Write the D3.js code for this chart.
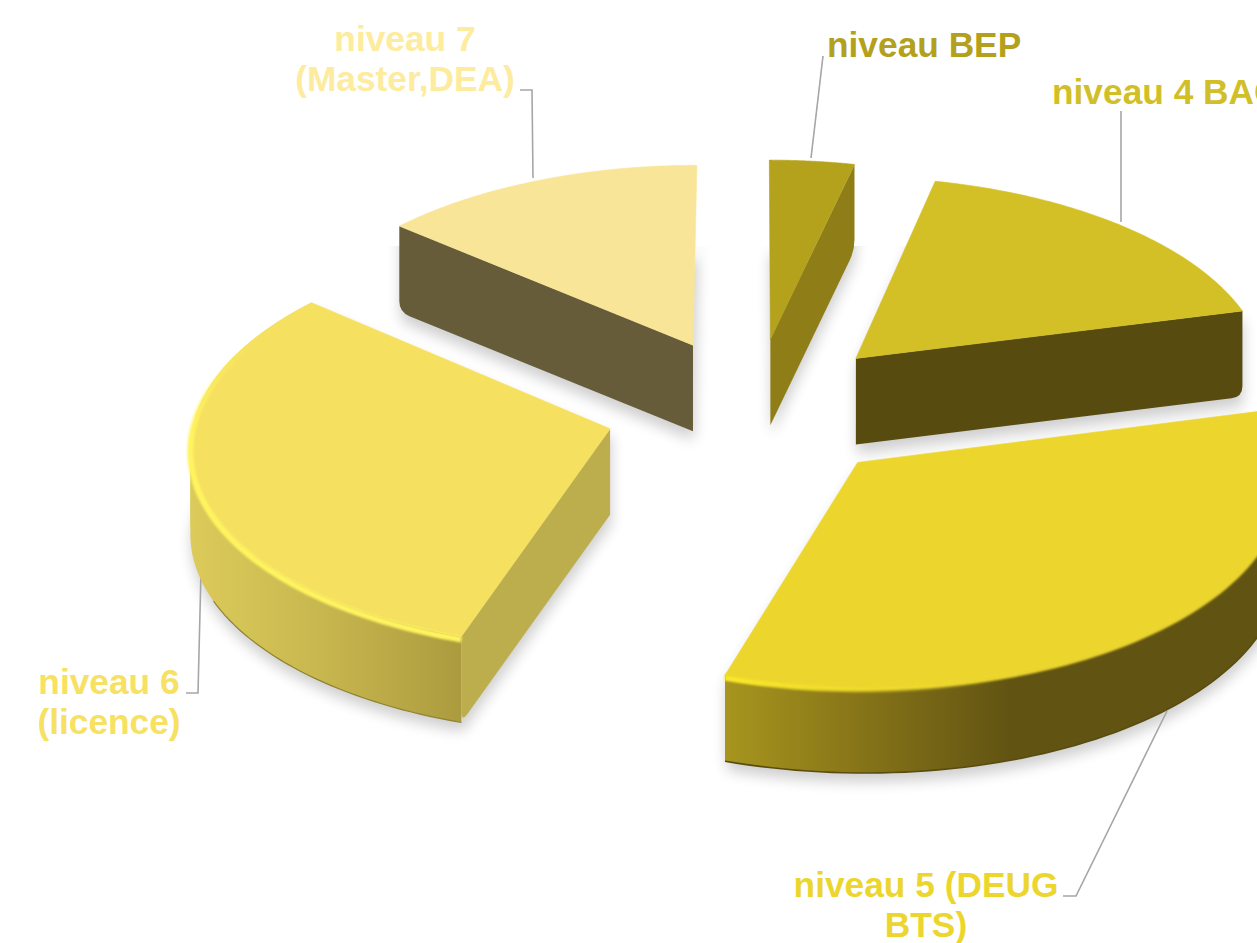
<!DOCTYPE html>
<html>
<head>
<meta charset="utf-8">
<script src="https://cdn.jsdelivr.net/npm/d3@7"></script>
<style>
html,body{margin:0;padding:0;background:#fff;overflow:hidden;}
text{font-family:"Liberation Sans",Arial,sans-serif;font-weight:bold;font-size:35.3px;}
</style>
</head>
<body>
<script>
// data (percent of the pie, clockwise from the top)
var categories = ["niveau BEP", "niveau 4 BAC", "niveau 5 (DEUG BTS)", "niveau 6 (licence)", "niveau 7 (Master,DEA)"];
var values = [3.6, 17.4, 34.0, 31.2, 13.8];

var width = 1257, height = 943;

// fake 3D camera
var cx = 754, cy = 409, rx = 415, ry = 201, persp = 0.07, explode = 0.358, depth = 86;

var topColors = ["#b4a11c", "#d3c027", "#ecd62e", "#f6e060", "#f8e598"];
var wallColors = ["#8f7e18", "#584b10", "#bdae4d", "#bdae4d", "#665c3a"];
var labelColors = ["#b3a01c", "#d2bf28", "#ecd62e", "#f7e162", "#fdeb9e"];

var svg = d3.select("body").append("svg").attr("width", width).attr("height", height);
var defs = svg.append("defs");

defs.append("filter").attr("id", "shadowBlur").attr("x", "-20%").attr("y", "-20%").attr("width", "140%").attr("height", "140%")
    .append("feGaussianBlur").attr("stdDeviation", 7);
defs.append("filter").attr("id", "bevelBlur").attr("filterUnits", "userSpaceOnUse")
    .attr("x", 0).attr("y", 0).attr("width", width + 300).attr("height", height)
    .append("feGaussianBlur").attr("stdDeviation", 1.3);
defs.append("clipPath").attr("id", "shadowClip").append("rect")
    .attr("x", 0).attr("y", 246).attr("width", width).attr("height", height);

function wallGradient(id, x1, x2, stops) {
    var g = defs.append("linearGradient").attr("id", id).attr("gradientUnits", "userSpaceOnUse")
        .attr("x1", x1).attr("x2", x2).attr("y1", 0).attr("y2", 0);
    stops.forEach(function(s) { g.append("stop").attr("offset", s[0]).attr("stop-color", s[1]); });
}
wallGradient("wall5", 721, 1010, [[0, "#a8961f"], [0.5, "#857318"], [1, "#615412"]]);
wallGradient("wall6", 190, 463, [[0, "#dccb5a"], [0.5, "#c7b64e"], [1, "#ab9b3e"]]);

// lip highlights fade out along the arc
var lip5 = defs.append("linearGradient").attr("id", "lip5").attr("gradientUnits", "userSpaceOnUse")
    .attr("x1", 721).attr("x2", 1000).attr("y1", 0).attr("y2", 0);
lip5.append("stop").attr("offset", 0).attr("stop-color", "#fbe92a");
lip5.append("stop").attr("offset", 1).attr("stop-color", "#fbe92a").attr("stop-opacity", 0);
var lip6 = defs.append("linearGradient").attr("id", "lip6").attr("gradientUnits", "userSpaceOnUse")
    .attr("x1", 0).attr("x2", 0).attr("y1", 340).attr("y2", 440);
lip6.append("stop").attr("offset", 0).attr("stop-color", "#fff45f").attr("stop-opacity", 0);
lip6.append("stop").attr("offset", 1).attr("stop-color", "#fff45f");

var arcs = d3.pie().sort(null).value(function(d) { return d; })(values);

function project(slice, theta, r, z) {
    var mid = (slice.startAngle + slice.endAngle) / 2;
    var u = r * Math.sin(theta) + explode * Math.sin(mid);
    var v = -r * Math.cos(theta) - explode * Math.cos(mid);
    var s = 1 / (1 - persp * v);
    return [cx + rx * u * s, cy + ry * v * s + z];
}

var line = d3.line();

function arcPoints(slice, a0, a1, z) {
    return d3.range(0, 81).map(function(i) {
        return project(slice, a0 + (a1 - a0) * i / 80, 1, z);
    });
}
function topFace(slice) {
    return line([project(slice, 0, 0, 0)].concat(arcPoints(slice, slice.startAngle, slice.endAngle, 0))) + "Z";
}
function bottomFace(slice) {
    return line([project(slice, 0, 0, depth)].concat(arcPoints(slice, slice.startAngle, slice.endAngle, depth))) + "Z";
}
// flat wall of a cut, its outer lower corner rounded off
function cutWall(slice, theta) {
    var a = project(slice, 0, 0, 0), b = project(slice, theta, 1, 0),
        c = project(slice, theta, 1, depth), e = project(slice, 0, 0, depth);
    var dx = e[0] - c[0], dy = e[1] - c[1], len = Math.sqrt(dx * dx + dy * dy), k = Math.min(11 / len, 0.3);
    var p = d3.path();
    p.moveTo(a[0], a[1]);
    p.lineTo(b[0], b[1]);
    p.lineTo(c[0], c[1] - 11);
    p.quadraticCurveTo(c[0], c[1], c[0] + dx * k, c[1] + dy * k);
    p.lineTo(e[0], e[1]);
    p.closePath();
    return p.toString();
}
// curved wall as two separate pieces, split at the leftmost point
// (one path would cancel itself where the pieces overlap)
function leftmost(slice) {
    return d3.minIndex(arcPoints(slice, slice.startAngle, slice.endAngle, 0), function(p) { return p[0]; });
}
function outerWalls(slice) {
    var a = arcPoints(slice, slice.startAngle, slice.endAngle, 0);
    var b = arcPoints(slice, slice.startAngle, slice.endAngle, depth);
    var k = leftmost(slice);
    return [line(a.slice(0, k + 1).concat(b.slice(0, k + 1).reverse())) + "Z",
            line(a.slice(k).concat(b.slice(k).reverse())) + "Z"];
}

// shadows first
var shadow = svg.append("g").attr("clip-path", "url(#shadowClip)")
    .append("g").attr("filter", "url(#shadowBlur)").attr("opacity", 0.19).attr("transform", "translate(1,9)");
arcs.forEach(function(d) {
    shadow.append("path").attr("d", bottomFace(d)).attr("fill", "#000");
    shadow.append("path").attr("d", cutWall(d, d.startAngle)).attr("fill", "#000");
    shadow.append("path").attr("d", cutWall(d, d.endAngle)).attr("fill", "#000");
});

// leader lines
var leaders = [
    [[823, 56], [811, 158]],
    [[1121, 111], [1121, 222]],
    [[1063, 896], [1076, 896], [1167, 711]],
    [[186, 693], [198, 693], [201, 572]],
    [[520, 90], [532, 90], [533, 178]]
];
svg.append("g").selectAll("path").data(leaders).enter().append("path")
    .attr("d", function(d) { return line(d); })
    .attr("fill", "none").attr("stroke", "#a6a6a6").attr("stroke-width", 1.6);

// slices, back ones first. which cut wall is seen depends on the slice
var order = [0, 4, 1, 3, 2];
var seenCut = {0: "end", 1: "end", 2: null, 3: "start", 4: "start"};

order.forEach(function(i) {
    var d = arcs[i];
    var g = svg.append("g").attr("class", "slice");
    if (i == 2 || i == 3) {
        g.selectAll("path.wall").data(outerWalls(d)).enter().append("path").attr("class", "wall")
            .attr("d", function(w) { return w; })
            .attr("fill", "url(#wall" + (i == 2 ? 5 : 6) + ")");
        // dark seam along the lower edge, on slice 6 it stops before the wall turns away
        var seam = arcPoints(d, d.startAngle, d.endAngle, depth);
        if (i == 3) seam = seam.slice(0, Math.round(leftmost(d) * 0.72) + 1);
        g.append("path").attr("d", line(seam))
            .attr("fill", "none").attr("stroke", i == 2 ? "#5a4c0e" : "#8f8230").attr("stroke-width", i == 2 ? 1.6 : 1.2);
    }
    if (seenCut[i]) {
        g.append("path").attr("d", cutWall(d, seenCut[i] == "end" ? d.endAngle : d.startAngle)).attr("fill", wallColors[i]);
    }
    g.append("path").attr("d", topFace(d)).attr("fill", topColors[i])
        .attr("stroke", topColors[i]).attr("stroke-width", 0.6);
    // rounded lip between the top and the wall
    if (i == 2) {
        g.append("path").attr("d", line(arcPoints(d, d.startAngle, d.endAngle, 1)))
            .attr("fill", "none").attr("stroke", topColors[i]).attr("stroke-width", 5).attr("filter", "url(#bevelBlur)");
        g.append("path").attr("d", line(arcPoints(d, d.startAngle + (d.endAngle - d.startAngle) * 0.4, d.endAngle, 3)))
            .attr("fill", "none").attr("stroke", "url(#lip5)").attr("stroke-width", 5).attr("filter", "url(#bevelBlur)");
    }
    if (i == 3) {
        g.append("path").attr("d", line(arcPoints(d, d.startAngle, d.endAngle, 3)))
            .attr("fill", "none").attr("stroke", "url(#lip6)").attr("stroke-width", 6).attr("filter", "url(#bevelBlur)");
    }
});

// labels (wrapped by hand like the original)
var labelLines = [
    ["niveau BEP"],
    ["niveau 4 BAC"],
    ["niveau 5 (DEUG", "BTS)"],
    ["niveau 6", "(licence)"],
    ["niveau 7", "(Master,DEA)"]
];
var labelPos = [
    {x: 827, y: 57, anchor: "start"},
    {x: 1052, y: 104, anchor: "start"},
    {x: 926, y: 897, anchor: "middle"},
    {x: 109, y: 694, anchor: "middle"},
    {x: 405, y: 51, anchor: "middle"}
];
categories.forEach(function(c, i) {
    var t = svg.append("text").attr("fill", labelColors[i]).attr("text-anchor", labelPos[i].anchor);
    labelLines[i].forEach(function(s, j) {
        t.append("tspan").attr("x", labelPos[i].x).attr("y", labelPos[i].y + j * 40).text(s);
    });
});
</script>
</body>
</html>
